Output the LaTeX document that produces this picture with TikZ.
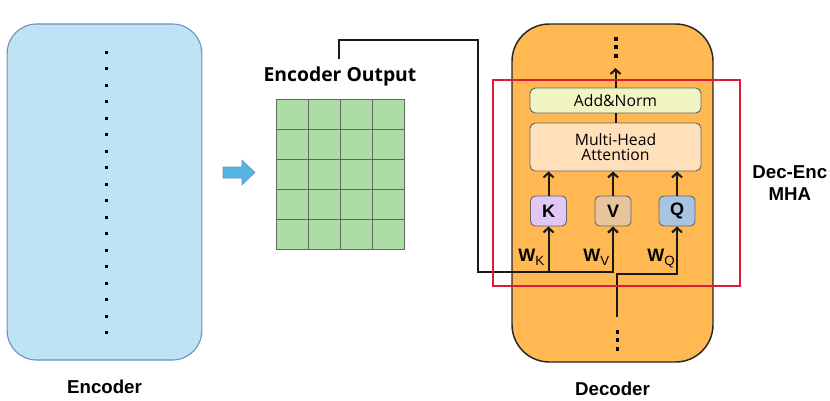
\documentclass[tikz,border=0pt]{standalone}
\usepackage{fontspec}
\setmainfont{Liberation Sans}
\newfontfamily\uifont{Open Sans}
\usepackage{tikz}
\usetikzlibrary{arrows.meta,positioning}
\definecolor{encfill}{RGB}{190,227,245}
\definecolor{encline}{RGB}{108,142,191}
\definecolor{gridfill}{RGB}{171,221,164}
\definecolor{decfill}{RGB}{255,184,82}
\definecolor{addfill}{RGB}{241,245,196}
\definecolor{mhafill}{RGB}{255,224,186}
\definecolor{kfill}{RGB}{225,199,245}
\definecolor{vfill}{RGB}{230,196,156}
\definecolor{qfill}{RGB}{167,197,224}
\definecolor{mhared}{RGB}{221,28,52}
\definecolor{flowblue}{RGB}{86,180,227}
\tikzset{
  encbox/.style={rectangle,rounded corners=22pt,draw=encline,fill=encfill,line width=0.8pt,
                 minimum width=146pt,minimum height=252pt},
  decbox/.style={rectangle,rounded corners=28pt,draw=black!85,fill=decfill,line width=1.1pt,
                 minimum width=150.75pt,minimum height=253.5pt},
  layer/.style={rectangle,rounded corners=4pt,draw=black!60,line width=0.7pt,fill=#1,
                minimum width=128.25pt,align=center,inner sep=1pt,
                font=\uifont\fontsize{11.8}{13}\selectfont},
  proj/.style={rectangle,rounded corners=3.5pt,draw=black!60,line width=0.7pt,fill=#1,
               minimum width=27pt,minimum height=22.5pt,inner sep=0pt,
               font=\bfseries\fontsize{13.5}{15}\selectfont},
  cell/.style={rectangle,draw=black!60,fill=gridfill,line width=0.6pt,inner sep=0pt,
               minimum width=24pt,minimum height=22.5pt},
  lbl/.style={font=\bfseries\fontsize{14}{16.5}\selectfont,align=center},
  wlbl/.style={font=\bfseries\fontsize{13.5}{15}\selectfont,inner sep=0pt,anchor=base west},
  mhaframe/.style={rectangle,draw=mhared,line width=1.6pt,minimum width=185.25pt,minimum height=154.5pt},
  arr/.style={-{Straight Barb[length=3.5pt,width=7.5pt]},line width=1.5pt,draw=black!90},
}
\newcommand{\wsub}[2]{#1\raisebox{-3.5pt}{\mdseries\fontsize{10}{11}\selectfont #2}}

\begin{document}
\begin{tikzpicture}[x=0.75pt,y=-0.75pt]
  \useasboundingbox (0,0) rectangle (830,400);

  % --- encoder ---
  \node[encbox] (enc) at (104.5,192) {};
  \foreach \i in {0,...,17}
    \fill (104.5,51+\i*16.47) rectangle ++(3,3);
  \node[lbl, below=11pt of enc] (enclabel) {Encoder};

  % --- flow arrow ---
  \fill[flowblue, draw=encline, line width=0.4pt]
    (223,167) -- (242,167) -- (242,160) -- (255,172.5) -- (242,185) -- (242,178) -- (223,178) -- cycle;

  % --- encoder output ---
  \node[font=\uifont\bfseries\fontsize{14.5}{16}\selectfont] (eolabel) at (340,76) {Encoder Output};
  \foreach \r in {0,...,4}
    \foreach \c in {0,...,3}
      \node[cell] (cell-\r-\c) at (292+32*\c,114+30*\r) {};

  % --- decoder ---
  \node[decbox] (dec) at (612.5,193) {};
  \node[layer=addfill, minimum height=18.75pt] (addnorm) at (615.5,100.5) {Add\&Norm};
  \node[layer=mhafill, minimum height=36pt] (mha) at (615.5,147) {Multi-Head\\[-1.5pt]Attention};
  \node[proj=kfill] (K) at (548.5,211) {K};
  \node[proj=vfill] (V) at (613,211) {V};
  \node[proj=qfill] (Q) at (677,211) {Q};

  \node[wlbl] (wk) at (518,261) {\wsub{W}{K}};
  \node[wlbl] (wv) at (583,261) {\wsub{W}{V}};
  \node[wlbl] (wq) at (647,261) {\wsub{W}{Q}};

  \foreach \p in {K,V,Q}
    \draw[arr] (\p.north) -- (\p.north |- mha.south);
  \draw[line width=1.5pt, black!90] (mha.north) -- (addnorm.south);

  \coordinate (topend) at (615.5,68);
  \draw[arr] (addnorm.north) -- (topend);
  \foreach \y in {37,45,54}
    \fill (614,\y) rectangle ++(3.5,3.5);
  \foreach \y in {330,338,347}
    \fill (615.5,\y) rectangle ++(3.5,3.5);

  % --- connections ---
  \coordinate (eoout) at (339,59);
  \coordinate (bend) at (478,40);
  \coordinate (kvjoin) at (613,272);
  \coordinate (qin) at (617,317);
  \coordinate (qjoin) at (677,274);
  \draw[arr, line width=1.7pt] (eoout) |- (bend) |- (kvjoin) -- (V.south);
  \draw[arr] (kvjoin -| K.south) -- (K.south);
  \draw[arr] (qin) |- (qjoin) -- (Q.south);

  % --- cross attention frame ---
  \node[mhaframe] (decenc) at (616.5,183) {};
  \node[lbl, right=5pt of decenc] (mhalabel) {Dec-Enc\\MHA};

  \node[lbl, below=11pt of dec] (declabel) {Decoder};
\end{tikzpicture}
\end{document}
